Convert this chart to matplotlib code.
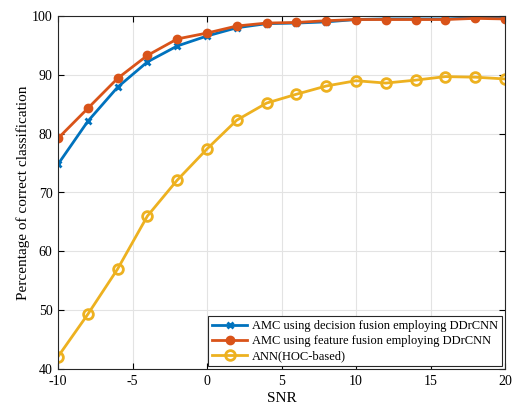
import numpy as np
import matplotlib.pyplot as plt

plt.rcParams['font.family'] = ['Liberation Serif', 'DejaVu Serif']
plt.rcParams['axes.unicode_minus'] = False

snr = [-10, -8, -6, -4, -2, 0, 2, 4, 6, 8, 10, 12, 14, 16, 18, 20]
decision_fusion = [74.8, 82.1, 87.9, 92.2, 94.9, 96.6, 98.0, 98.7, 98.8, 99.0,
                   99.4, 99.5, 99.5, 99.5, 99.7, 99.8]
feature_fusion = [79.2, 84.3, 89.4, 93.3, 96.1, 97.1, 98.3, 98.8, 98.9, 99.2,
                  99.4, 99.4, 99.4, 99.4, 99.6, 99.5]
ann_hoc = [42.1, 49.3, 57.0, 66.0, 72.1, 77.4, 82.3, 85.2, 86.7, 88.1,
           89.0, 88.6, 89.1, 89.7, 89.6, 89.3]

fig = plt.figure(figsize=(5.15, 4.08), dpi=100)
ax = fig.add_axes([58 / 515, 1 - 369 / 408, 447 / 515, 353 / 408])

ax.plot(snr, decision_fusion, color='#0072BD', lw=2, marker='x', ms=5, mew=2,
        label='AMC using decision fusion employing DDrCNN')
ax.plot(snr, feature_fusion, color='#D95319', lw=2, marker='o', ms=6,
        label='AMC using feature fusion employing DDrCNN')
ax.plot(snr, ann_hoc, color='#EDB120', lw=2, marker='o', ms=7, mew=2,
        mfc='none', label='ANN(HOC-based)')

ax.set_xlim(-10, 20)
ax.set_ylim(40, 100)
ax.set_xticks(np.arange(-10, 21, 5))
ax.set_yticks(np.arange(40, 101, 10))
ax.grid(True, color='#e3e3e3', lw=0.8)
ax.set_axisbelow(True)
ax.tick_params(direction='in', top=True, right=True, labelsize=10, length=4,
               pad=4)
for s in ax.spines.values():
    s.set_linewidth(0.8)
    s.set_color('#262626')

ax.set_xlabel('SNR', fontsize=11, labelpad=3)
ax.set_ylabel('Percentage of correct classification', fontsize=11, labelpad=1)

leg = ax.legend(loc='lower right', fontsize=9, fancybox=False, framealpha=1,
                edgecolor='#262626', borderpad=0.3, labelspacing=0.25,
                handlelength=2.8, handletextpad=0.4, borderaxespad=0.25)
leg.get_frame().set_linewidth(0.8)

fig.savefig('out.png', dpi=100)
